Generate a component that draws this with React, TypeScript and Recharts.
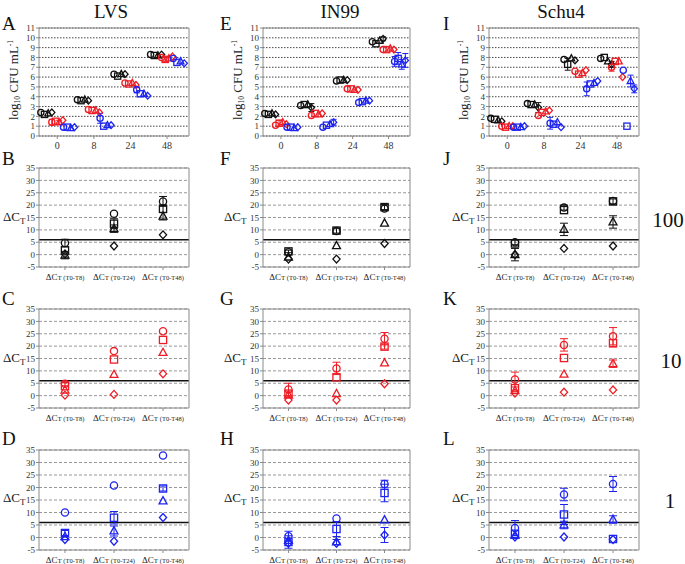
import React from 'react';
import {
  ScatterChart,
  Scatter,
  XAxis,
  YAxis,
  CartesianGrid,
  ErrorBar,
  ReferenceLine,
} from 'recharts';

const STRAINS = ['LVS', 'IN99', 'Schu4'];
const DOSES = ['100', '10', '1'];
const DOSE_COLORS = ['#111111', '#ee1d25', '#1d24ef'];
const TIMES = ['0', '8', '24', '48'];
const MARKERS = ['circle', 'square', 'triangle', 'diamond'];
const INTERVALS = ['(T0-T8)', '(T0-T24)', '(T0-T48)'];
const LETTERS = [
  ['A', 'B', 'C', 'D'],
  ['E', 'F', 'G', 'H'],
  ['I', 'J', 'K', 'L'],
];
const CFU_TICKS = [0, 1, 2, 3, 4, 5, 6, 7, 8, 9, 10, 11];
const DCT_TICKS = [-5, 0, 5, 10, 15, 20, 25, 30, 35];
const DCT_CUTOFF = 6;

// log10 CFU/mL. rows: 0, 8, 24, 48 h; cols: circle, square, triangle, diamond
const LVS_CFU_100 = [[2.4, 2.2, 2.3, 2.4], [3.7, 3.6, 3.7, 3.6], [6.3, 6.1, 6.3, 6.3], [8.3, 8.2, 8.2, 8.3]];
const LVS_CFU_10 = [[1.4, 1.5, 1.4, 1.6], [2.7, 2.6, 2.6, 2.4], [5.4, 5.3, 5.4, 5.2], [8.0, 7.8, 7.9, 8.1]];
const LVS_CFU_1 = [[0.9, 0.9, 0.8, 0.9], [1.8, 1.0, 1.1, 1.1], [4.7, 4.3, 4.3, 4.1], [7.9, 7.5, 7.6, 7.4]];
const IN99_CFU_100 = [[2.3, 2.2, 2.3, 2.2], [3.1, 3.2, 3.2, 2.9], [5.6, 5.7, 5.7, 5.7], [9.6, 9.4, 9.7, 9.9]];
const IN99_CFU_10 = [[1.1, 1.3, 1.4, 1.2], [2.1, 2.3, 2.2, 2.3], [4.8, 4.8, 4.7, 4.7], [8.8, 8.8, 8.9, 8.8]];
const IN99_CFU_1 = [[0.9, 0.9, 0.8, 0.9], [0.9, 1.1, 1.2, 1.4], [3.4, 3.5, 3.6, 3.6], [7.6, 7.9, 7.3, 7.7]];
const SCHU4_CFU_100 = [[1.8, 1.7, 1.6, 1.5], [3.3, 3.2, 3.2, 2.9], [7.8, 7.3, 7.9, 7.7], [7.9, 8.0, 7.6, 7.3]];
const SCHU4_CFU_10 = [[1.0, 0.9, 1.0, 1.0], [2.1, 2.4, 2.5, 2.6], [6.6, 6.3, 6.4, 6.7], [7.0, 7.6, 7.6, 6.0]];
const SCHU4_CFU_1 = [[0.9, 0.9, 0.9, 1.0], [1.3, 1.2, 1.4, 0.9], [4.8, 5.3, 5.4, 5.6], [6.7, 1.0, 5.6, 4.8]];

// visible CFU error bars: [dose, time, marker, sd]
const LVS_CFU_ERR = [[1, 0, 0, 0.3], [1, 0, 2, 0.2], [2, 1, 0, 0.5], [2, 2, 0, 0.3], [1, 3, 1, 0.2]];
const IN99_CFU_ERR = [[0, 1, 3, 0.4], [1, 0, 1, 0.3], [2, 1, 3, 0.3], [2, 3, 0, 0.5], [2, 3, 1, 0.6], [2, 3, 2, 0.5], [2, 3, 3, 0.7], [0, 3, 3, 0.2]];
const SCHU4_CFU_ERR = [[2, 1, 0, 0.6], [0, 1, 3, 0.5], [0, 2, 1, 0.6], [2, 2, 0, 0.7], [2, 3, 2, 0.6], [2, 3, 3, 0.4], [1, 3, 0, 0.4], [0, 3, 3, 0.3]];

// ΔCT. rows: T0-T8, T0-T24, T0-T48; cols: circle, square, triangle, diamond
const LVS_DCT_100 = [[4.7, 1.7, -0.2, 0.3], [16.5, 12.5, 10.5, 3.5], [21.5, 18.5, 15.5, 8.0]];
const LVS_DCT_10 = [[4.8, 3.8, 2.2, 0.2], [18.0, 14.6, 8.5, 0.5], [26.0, 22.5, 17.4, 8.8]];
const LVS_DCT_1 = [[10.0, 1.8, 0.3, -0.8], [20.8, 7.9, 2.6, -1.5], [32.8, 19.6, 14.6, 8.0]];
const IN99_DCT_100 = [[1.0, 1.3, -1.0, -1.8], [9.5, 9.7, 3.6, -1.8], [18.6, 19.2, 12.7, 4.5]];
const IN99_DCT_10 = [[2.5, 0.8, 0.2, -1.8], [11.0, 7.4, 0.8, -1.8], [23.0, 19.8, 13.2, 4.8]];
const IN99_DCT_1 = [[0.5, -1.8, -1.2, -2.3], [7.6, 3.4, -1.8, -2.3], [21.4, 17.8, 7.0, 1.0]];
const SCHU4_DCT_100 = [[5.0, 4.5, 0.0, 0.0], [19.0, 18.0, 10.2, 2.5], [21.7, 21.5, 13.2, 3.5]];
const SCHU4_DCT_10 = [[6.5, 3.0, 2.0, 1.0], [20.5, 15.2, 8.6, 1.4], [24.0, 21.2, 12.9, 2.3]];
const SCHU4_DCT_1 = [[3.8, 1.5, 0.8, 0.2], [17.2, 9.2, 5.0, 0.2], [21.4, -0.6, 7.2, -0.8]];

const LVS_DCT_100_ERR = [[1.5, 0, 1.5, 0], [0, 2.0, 1.5, 0], [2.0, 1.5, 1.5, 0]];
const LVS_DCT_10_ERR = [[0.8, 0, 0, 0], [0, 0, 0, 0], [0, 0, 0, 0]];
const LVS_DCT_1_ERR = [[0, 1.0, 0, 0], [0, 2.5, 2.0, 0], [0, 1.0, 0, 0]];
const IN99_DCT_100_ERR = [[0, 0.5, 0, 0], [0, 1.0, 0, 0], [0, 1.0, 0, 0]];
const IN99_DCT_10_ERR = [[2.5, 1.0, 0, 0], [2.5, 0, 0, 0], [2.5, 1.0, 0, 0]];
const IN99_DCT_1_ERR = [[2.0, 2.5, 0, 0], [0, 3.0, 1.0, 0], [1.5, 3.5, 0, 3.0]];
const SCHU4_DCT_100_ERR = [[1.0, 0, 2.5, 0], [1.0, 0, 2.5, 0], [0, 1.0, 2.5, 0]];
const SCHU4_DCT_10_ERR = [[3.0, 0, 0, 0], [2.5, 0, 0, 0], [3.5, 1.5, 1.5, 0]];
const SCHU4_DCT_1_ERR = [[3.0, 0, 0, 0], [2.5, 4.0, 1.5, 0], [3.0, 0, 1.5, 0]];

const CFU = [
  [LVS_CFU_100, LVS_CFU_10, LVS_CFU_1],
  [IN99_CFU_100, IN99_CFU_10, IN99_CFU_1],
  [SCHU4_CFU_100, SCHU4_CFU_10, SCHU4_CFU_1],
];
const CFU_ERR = [LVS_CFU_ERR, IN99_CFU_ERR, SCHU4_CFU_ERR];
const DCT = [
  [LVS_DCT_100, LVS_DCT_10, LVS_DCT_1],
  [IN99_DCT_100, IN99_DCT_10, IN99_DCT_1],
  [SCHU4_DCT_100, SCHU4_DCT_10, SCHU4_DCT_1],
];
const DCT_ERR = [
  [LVS_DCT_100_ERR, LVS_DCT_10_ERR, LVS_DCT_1_ERR],
  [IN99_DCT_100_ERR, IN99_DCT_10_ERR, IN99_DCT_1_ERR],
  [SCHU4_DCT_100_ERR, SCHU4_DCT_10_ERR, SCHU4_DCT_1_ERR],
];

// layout
const SERIF = '"Liberation Serif", "Times New Roman", serif';
const COL_LEFT = [39, 263, 489];
const COL_WIDTH = [150, 147, 150];
const ROW_TOP = [28, 168, 309, 450];
const ROW_HEIGHT = [108, 99, 99, 100];
const ML = 24;
const MR = 6;
const MT = 6;
const MB = 20;
const DOSE_SHIFT = [-0.3, 0, 0.32];
const MARKER_SHIFT = [-0.15, -0.05, 0.05, 0.15];

const markerShape = (kind: string, color: string, r: number) => (props: any) => {
  const { cx, cy } = props;
  if (cx == null || cy == null) return <g />;
  const common = { fill: 'none', stroke: color, strokeWidth: 1.3 };
  if (kind === 'circle') return <circle cx={cx} cy={cy} r={r} {...common} />;
  if (kind === 'square')
    return <rect x={cx - r} y={cy - r} width={2 * r} height={2 * r} {...common} />;
  if (kind === 'triangle')
    return (
      <polygon
        points={`${cx},${cy - r * 1.2} ${cx - r * 1.1},${cy + r * 0.8} ${cx + r * 1.1},${cy + r * 0.8}`}
        {...common}
      />
    );
  return (
    <polygon
      points={`${cx},${cy - r * 1.1} ${cx + r},${cy} ${cx},${cy + r * 1.1} ${cx - r},${cy}`}
      {...common}
    />
  );
};

const tickFont = { fontSize: 9, fill: '#333', fontFamily: SERIF };
const AXIS = '#8a8a8a';

const DctTick = (props: any) => {
  const { x, y, payload } = props;
  return (
    <text x={x} y={y + 8} textAnchor="middle" fontFamily={SERIF} fill="#222">
      <tspan fontSize={9}>ΔC</tspan>
      <tspan fontSize={7}>T</tspan>
      <tspan fontSize={6.5}> {INTERVALS[payload.value]}</tspan>
    </text>
  );
};

function CfuPanel({ col }: { col: number }) {
  const width = COL_WIDTH[col];
  const height = ROW_HEIGHT[0];
  const errs = CFU_ERR[col];
  return (
    <div style={{ position: 'absolute', left: COL_LEFT[col] - ML, top: ROW_TOP[0] - MT }}>
      <ScatterChart
        width={width + ML + MR}
        height={height + MT + MB}
        margin={{ top: 0, right: 0, bottom: 0, left: 0 }}
      >
        <CartesianGrid vertical={false} stroke="#444" strokeDasharray="1.5 1.5" />
        <XAxis
          dataKey="x"
          type="number"
          domain={[-0.5, 3.6]}
          ticks={[0, 1, 2, 3]}
          tickFormatter={(v: number) => TIMES[v]}
          tick={{ ...tickFont, fontSize: 10 }}
          tickSize={3}
          tickMargin={3}
          height={MB}
          stroke={AXIS}
        />
        <XAxis
          xAxisId="top"
          orientation="top"
          type="number"
          domain={[-0.5, 3.6]}
          ticks={[0, 1, 2, 3]}
          tick={false}
          tickSize={3}
          height={MT}
          stroke={AXIS}
        />
        <YAxis
          dataKey="y"
          type="number"
          domain={[0, 11]}
          ticks={CFU_TICKS}
          interval={0}
          tick={tickFont}
          tickSize={3}
          tickMargin={1}
          width={ML}
          stroke={AXIS}
        />
        <YAxis
          yAxisId="right"
          orientation="right"
          type="number"
          domain={[0, 11]}
          ticks={CFU_TICKS.flatMap((t) => (t < 11 ? [t, t + 0.5] : [t]))}
          interval={0}
          tick={false}
          tickSize={2}
          width={MR}
          stroke={AXIS}
        />
        {DOSES.map((d, di) =>
          MARKERS.map((m, mi) => {
            const data = TIMES.map((t, ti) => {
              const e = errs.find((r) => r[0] === di && r[1] === ti && r[2] === mi);
              return {
                x: ti + DOSE_SHIFT[di] + MARKER_SHIFT[mi],
                y: CFU[col][di][ti][mi],
                err: e ? e[3] : 0,
              };
            });
            return (
              <Scatter
                key={`${d}-${m}`}
                data={data}
                shape={markerShape(m, DOSE_COLORS[di], 3.1)}
                isAnimationActive={false}
              >
                <ErrorBar dataKey="err" direction="y" width={3} stroke={DOSE_COLORS[di]} strokeWidth={1} />
              </Scatter>
            );
          })
        )}
      </ScatterChart>
    </div>
  );
}

function DctPanel({ col, dose }: { col: number; dose: number }) {
  const width = COL_WIDTH[col];
  const height = ROW_HEIGHT[dose + 1];
  const color = DOSE_COLORS[dose];
  const vals = DCT[col][dose];
  const errs = DCT_ERR[col][dose];
  const minor: number[] = [];
  for (let v = -5; v <= 35; v += 1) minor.push(v);
  return (
    <div style={{ position: 'absolute', left: COL_LEFT[col] - ML, top: ROW_TOP[dose + 1] - MT }}>
      <ScatterChart
        width={width + ML + MR}
        height={height + MT + MB}
        margin={{ top: 0, right: 0, bottom: 0, left: 0 }}
      >
        <CartesianGrid vertical={false} stroke="#999" strokeDasharray="3 2" />
        <XAxis
          dataKey="x"
          type="number"
          domain={[-0.53, 2.53]}
          ticks={[0, 1, 2]}
          tick={<DctTick />}
          tickSize={3}
          height={MB}
          stroke={AXIS}
        />
        <XAxis
          xAxisId="top"
          orientation="top"
          type="number"
          domain={[-0.53, 2.53]}
          ticks={[0, 1, 2]}
          tick={false}
          tickSize={3}
          height={MT}
          stroke={AXIS}
        />
        <YAxis
          dataKey="y"
          type="number"
          domain={[-5, 35]}
          ticks={DCT_TICKS}
          interval={0}
          tick={tickFont}
          tickSize={3}
          tickMargin={1}
          width={ML}
          stroke={AXIS}
        />
        <YAxis
          yAxisId="right"
          orientation="right"
          type="number"
          domain={[-5, 35]}
          ticks={minor}
          interval={0}
          tick={false}
          tickSize={2}
          width={MR}
          stroke={AXIS}
        />
        <ReferenceLine y={DCT_CUTOFF} stroke="#111" strokeWidth={1.5} />
        {MARKERS.map((m, mi) => {
          const data = INTERVALS.map((iv, ii) => ({
            x: ii,
            y: vals[ii][mi],
            err: errs[ii][mi],
          }));
          return (
            <Scatter
              key={m}
              data={data}
              shape={markerShape(m, color, 3.6)}
              isAnimationActive={false}
            >
              <ErrorBar dataKey="err" direction="y" width={4} stroke={color} strokeWidth={1} />
            </Scatter>
          );
        })}
      </ScatterChart>
    </div>
  );
}

const TITLE_X = [111, 340, 561];
const LETTER_X = [2, 220, 443];
const LETTER_Y = [30, 165, 305, 445];
const DCT_LABEL_X = [3, 224, 452];
const DCT_LABEL_Y = [221, 362, 502];
const DOSE_LABEL_X = [668, 671, 670];

export default function App() {
  return (
    <div
      style={{
        position: 'absolute',
        left: 0,
        top: 0,
        width: 685,
        height: 564,
        background: '#fff',
        overflow: 'hidden',
      }}
    >
      {STRAINS.map((s, col) => (
        <React.Fragment key={s}>
          <CfuPanel col={col} />
          {DOSES.map((d, di) => (
            <DctPanel key={d} col={col} dose={di} />
          ))}
        </React.Fragment>
      ))}
      <svg
        width={685}
        height={564}
        style={{ position: 'absolute', left: 0, top: 0, pointerEvents: 'none' }}
        fontFamily={SERIF}
      >
        {STRAINS.map((s, col) => (
          <g key={s}>
            <text x={TITLE_X[col]} y={18} fontSize={19} textAnchor="middle" fill="#111">
              {s}
            </text>
            {LETTERS[col].map((l, r) => (
              <text key={l} x={LETTER_X[col]} y={LETTER_Y[r]} fontSize={19} fill="#111">
                {l}
              </text>
            ))}
            <text
              transform={`translate(${COL_LEFT[col] - 21}, 80) rotate(-90)`}
              textAnchor="middle"
              fontSize={13}
              fill="#222"
            >
              log<tspan fontSize={7.5} dy={2}>10</tspan>
              <tspan dy={-2}> CFU mL</tspan>
              <tspan fontSize={7.5} dy={-5}>-1</tspan>
            </text>
            {DOSES.map((d, di) => (
              <text key={d} x={DCT_LABEL_X[col]} y={DCT_LABEL_Y[di]} fontSize={13} fill="#222">
                ΔC<tspan fontSize={9} dy={3}>T</tspan>
              </text>
            ))}
          </g>
        ))}
        {DOSES.map((d, di) => (
          <text
            key={d}
            x={DOSE_LABEL_X[di]}
            y={DCT_LABEL_Y[di] + 6}
            fontSize={21}
            textAnchor="middle"
            fill="#111"
          >
            {d}
          </text>
        ))}
      </svg>
    </div>
  );
}
